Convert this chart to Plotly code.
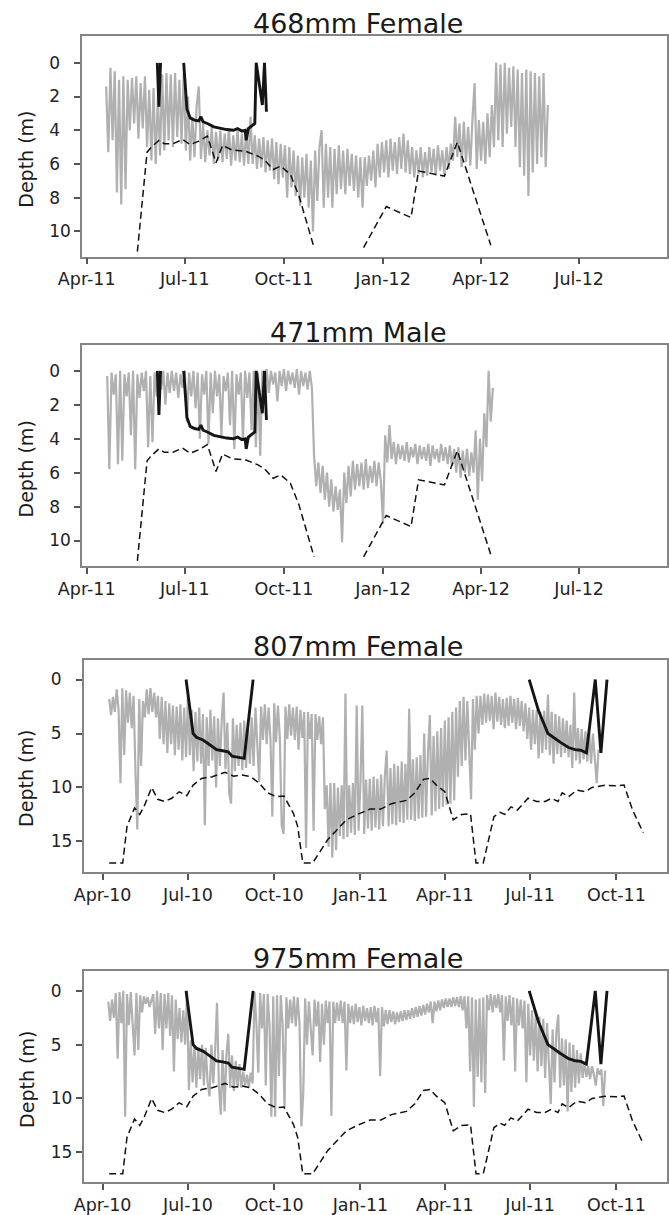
import numpy as np
import pandas as pd
import plotly.graph_objects as go

# ---------------- data ----------------
titles = ["468mm Female", "471mm Male", "807mm Female", "975mm Female"]
base_2011 = "2011-04-01"   # day 0 for panels 1-2
base_2010 = "2010-04-01"   # day 0 for panels 3-4

# gray logger depth traces (regular sampling: start day, step in days, depths in m)
p1_start, p1_step = 18, 2
p1_depth = [1.4, 5.3, 0.3, 4.6, 0.5, 7.7, 1.0, 8.4, 0.8, 7.5,
            1.0, 4.0, 0.9, 3.6, 0.8, 4.5, 1.2, 3.9, 0.8, 5.0,
            1.6, 5.8, 1.5, 6.0, 2.0, 5.5, 0.7, 5.2, 0.6, 4.6,
            0.7, 5.0, 0.6, 4.4, 1.0, 4.8, 0.6, 5.2, 2.0, 5.8,
            3.2, 5.6, 2.6, 1.4, 5.7, 3.6, 5.9, 4.0, 5.5, 3.8,
            6.0, 4.1, 5.8, 4.0, 5.9, 4.2, 5.7, 3.9, 6.1, 4.3,
            5.8, 4.0, 5.9, 4.2, 6.1, 4.0, 6.0, 3.2, 6.0, 4.3,
            6.3, 4.5, 6.2, 4.4, 6.5, 4.6, 6.4, 4.5, 6.9, 4.7,
            7.2, 4.8, 6.8, 4.9, 8.0, 5.0, 7.4, 5.2, 7.9, 5.5,
            8.5, 5.6, 8.0, 5.4, 8.6, 5.8, 10.0, 5.2, 8.2, 5.0,
            4.0, 8.6, 4.8, 8.0, 5.0, 8.6, 5.1, 7.8, 4.9, 7.5,
            5.2, 7.8, 5.1, 7.3, 5.4, 7.6, 5.5, 8.0, 5.6, 8.6,
            5.6, 7.3, 5.5, 7.0, 5.2, 7.4, 4.8, 6.8, 4.7, 6.5,
            4.6, 6.8, 4.5, 6.4, 4.7, 6.6, 4.4, 6.3, 4.2, 6.5,
            4.6, 6.6, 5.0, 6.8, 5.2, 6.6, 5.0, 6.8, 5.3, 6.7,
            5.0, 6.5, 5.1, 6.7, 4.9, 6.4, 5.2, 6.6, 5.0, 6.3,
            4.8, 5.8, 3.2, 5.6, 3.6, 6.2, 3.5, 5.9, 3.8, 6.1,
            3.4, 1.2, 6.3, 3.4, 5.8, 3.5, 6.0, 3.0, 5.6, 2.5,
            5.0, 0.0, 4.6, 0.1, 5.0, 0.0, 4.2, 0.3, 3.8, 0.2,
            5.0, 0.4, 6.2, 0.6, 6.7, 0.4, 7.9, 0.5, 6.5, 0.6,
            6.0, 0.8, 5.6, 0.6, 6.2, 2.5]

p2_start, p2_step = 19, 2
p2_depth = [0.3, 5.8, 0.1, 1.4, 0.2, 5.5, 0.0, 5.3, 0.2, 1.5,
            0.1, 3.8, 0.0, 5.8, 0.2, 1.6, 0.1, 1.2, 0.0, 4.5,
            0.3, 4.2, 0.1, 1.5, 0.2, 1.1, 0.0, 2.0, 0.1, 1.3,
            0.0, 1.2, 0.1, 1.6, 0.2, 1.0, 0.0, 3.0, 0.1, 1.5,
            0.0, 2.2, 0.1, 4.0, 0.2, 1.4, 0.0, 4.3, 0.1, 2.5,
            0.0, 1.5, 0.2, 3.8, 0.3, 1.2, 0.1, 3.2, 0.0, 4.6,
            0.2, 1.4, 0.1, 4.1, 0.0, 1.6, 0.1, 3.5, 0.0, 4.5,
            0.1, 5.0, 0.0, 0.9, -0.1, 1.3, 0.0, 0.8, 0.1, 1.8,
            0.0, 0.9, -0.1, 1.2, 0.0, 0.8, 0.1, 1.0, -0.1, 1.4,
            0.0, 0.9, 0.1, 1.1, 0.0, 1.0, 5.0, 6.8, 5.4, 7.2,
            5.6, 7.6, 6.0, 8.0, 6.4, 8.3, 6.8, 8.2, 7.0, 10.1,
            6.0, 7.8, 5.6, 7.4, 5.3, 7.0, 5.5, 6.8, 5.4, 7.0,
            5.2, 6.9, 5.6, 6.6, 5.3, 6.8, 5.4, 6.5, 9.0, 3.8,
            5.4, 3.2, 5.2, 4.2, 5.5, 4.3, 5.2, 4.4, 5.3, 4.2,
            5.4, 4.5, 5.1, 4.3, 5.5, 4.4, 5.2, 4.5, 5.3, 4.3,
            5.6, 4.4, 5.2, 4.6, 5.4, 4.3, 5.3, 4.5, 5.5, 4.4,
            5.6, 4.6, 6.0, 4.5, 6.3, 4.7, 6.0, 4.6, 6.2, 4.8,
            6.0, 3.5, 7.6, 4.0, 6.5, 2.5, 4.5, 0.0, 3.0, 1.0]

p3_start, p3_step = 7, 2
p3_depth = [1.8, 3.3, 1.6, 3.0, 0.9, 2.8, 9.6, 0.8, 7.0, 1.0,
            4.0, 1.2, 4.5, 1.5, 8.5, 13.9, 1.8, 8.0, 2.0, 3.5,
            0.9, 3.2, 0.8, 3.0, 1.2, 3.5, 1.5, 5.5, 1.6, 6.0,
            2.0, 6.8, 2.2, 6.0, 2.4, 7.0, 2.5, 6.5, 2.3, 7.5,
            2.6, 7.2, 1.5, 7.0, 2.8, 8.5, 3.0, 7.6, 2.6, 7.8,
            3.2, 13.5, 3.5, 8.0, 2.8, 7.5, 3.4, 10.0, 3.6, 8.0,
            3.8, 1.2, 8.3, 4.0, 10.5, 11.5, 3.6, 8.5, 4.2, 8.0,
            4.0, 8.4, 3.8, 8.2, 4.0, 7.8, 3.5, 8.0, 2.6, 6.5,
            9.5, 2.5, 5.6, 2.3, 6.0, 2.6, 5.5, 12.7, 2.2, 5.8,
            2.4, 5.4, 13.5, 14.3, 2.5, 5.5, 2.3, 5.2, 2.6, 5.6,
            2.5, 6.5, 2.8, 5.4, 3.0, 15.6, 3.0, 5.5, 3.2, 14.0,
            3.2, 5.6, 3.4, 6.0, 3.5, 12.0, 9.8, 15.5, 9.6, 16.5,
            9.6, 15.8, 10.0, 14.5, 9.8, 14.8, 1.3, 14.6, 9.8, 14.2,
            9.6, 14.4, 2.4, 14.0, 9.5, 2.4, 14.3, 9.3, 13.8, 9.2,
            14.0, 9.0, 13.7, 9.2, 13.9, 8.8, 13.6, 9.0, 6.6, 13.6,
            8.2, 13.4, 7.8, 13.5, 8.0, 13.2, 7.6, 13.3, 7.8, 13.0,
            2.7, 13.0, 7.4, 13.1, 7.2, 12.9, 7.0, 12.8, 5.0, 12.7,
            6.8, 3.3, 12.6, 5.2, 12.2, 4.8, 12.0, 4.5, 11.8, 3.8,
            11.6, 3.5, 11.5, 3.0, 11.2, 2.6, 9.0, 2.0, 8.0, 1.6,
            7.5, 2.0, 6.0, 11.1, 1.8, 6.5, 1.5, 5.0, 1.5, 4.2,
            1.3, 4.0, 1.4, 3.8, 1.5, 4.6, 1.2, 3.9, 1.6, 4.2,
            1.8, 4.5, 1.7, 4.3, 1.5, 4.0, 1.8, 4.6, 1.7, 4.3,
            2.0, 4.8, 2.2, 5.5, 2.6, 6.5, 2.8, 6.0, 2.8, 7.3,
            3.0, 6.8, 2.9, 6.5, 1.4, 7.0, 3.0, 7.8, 3.2, 6.9,
            3.4, 7.2, 3.6, 6.8, 3.8, 7.2, 4.2, 8.2, 1.2, 7.5,
            4.5, 7.8, 4.6, 7.4, 4.8, 7.6, 4.9, 7.8, 5.0, 7.7,
            9.6, 6.5]

p4_start, p4_step = 6, 2
p4_depth = [1.0, 2.8, 0.8, 2.5, 0.2, 6.3, 0.1, 3.0, 0.0, 11.7,
            0.3, 3.2, 0.1, 2.8, 6.0, 0.2, 5.5, 0.4, 2.0, 0.5,
            1.2, 0.6, 1.5, 0.9, 0.3, 4.0, 0.0, 3.5, 0.2, 5.5,
            0.3, 3.5, 0.2, 4.2, 0.4, 7.5, 0.8, 4.5, 1.6, 4.8,
            1.8, 5.0, 0.0, 9.2, 4.6, 8.5, 5.0, 9.0, 5.2, 8.2,
            5.0, 8.8, 5.3, 8.5, 9.8, 5.0, 8.6, 5.5, 1.1, 8.8,
            11.5, 5.5, 11.2, 6.0, 4.0, 9.0, 6.0, 9.3, 6.5, 9.0,
            6.8, 9.0, 7.5, 8.8, 7.8, 9.0, 7.6, 8.6, 0.1, 3.0,
            7.6, 0.2, 3.5, 0.3, 8.8, 0.3, 3.2, 11.7, 0.5, 11.7,
            0.4, 7.9, 0.4, 3.2, 10.9, 0.6, 3.5, 0.8, 3.0, 0.5,
            3.3, 0.6, 3.0, 12.6, 9.5, 0.7, 5.0, 1.0, 3.2, 6.0,
            0.8, 3.3, 1.0, 6.6, 1.2, 5.0, 0.9, 3.0, 1.0, 11.6,
            1.0, 3.0, 1.1, 2.8, 0.9, 3.0, 1.0, 7.4, 1.2, 3.0,
            1.4, 3.1, 1.2, 2.9, 1.5, 3.2, 1.4, 2.8, 1.6, 3.0,
            1.5, 3.2, 1.4, 2.9, 1.6, 7.9, 1.5, 3.3, 1.8, 3.1,
            1.8, 2.9, 1.9, 3.1, 2.0, 2.9, 1.9, 2.8, 1.8, 2.7,
            1.8, 2.6, 1.6, 2.5, 1.5, 2.4, 1.4, 2.3, 1.3, 2.2,
            1.2, 2.0, 1.0, 3.0, 1.0, 1.9, 0.9, 1.8, 0.8, 1.6,
            0.7, 1.5, 0.7, 1.5, 0.6, 1.4, 0.6, 1.5, 0.5, 1.8,
            0.5, 3.5, 0.5, 7.5, 0.6, 10.8, 0.8, 8.0, 0.7, 8.5,
            0.6, 9.5, 0.4, 1.8, 0.3, 2.0, 0.4, 1.6, 0.3, 2.0,
            0.4, 6.5, 0.5, 2.8, 0.4, 3.2, 0.6, 7.5, 0.7, 3.2,
            0.8, 3.5, 0.9, 8.5, 1.2, 6.0, 1.8, 6.5, 2.0, 7.5,
            2.4, 7.0, 2.6, 8.1, 3.0, 7.5, 10.5, 3.6, 8.5, 3.8,
            2.2, 9.0, 4.4, 8.8, 4.5, 11.2, 4.8, 9.4, 5.0, 9.0,
            5.5, 8.6, 5.8, 8.1, 6.6, 8.0, 7.0, 8.2, 7.0, 7.8,
            8.8, 7.2, 7.8, 7.3, 10.7, 7.4]

# black line (panels 1-2, day since 2011-04-01; None = gap)
blk_a_day = [65.5, 67, 68.5, None, 90, 93, 96, 100, 104, 106, 108, 112, 118, 124, 130, 136, 140,
             144, 147, 148, 150, 152, 154, 156, 157.3, 163, 165, 166.8]
blk_a_dep = [0, 2.6, 0, None, 0, 2.75, 3.27, 3.4, 3.45, 3.2, 3.5, 3.6, 3.8, 3.9, 3.96, 4.0, 3.9,
             4.05, 4.0, 4.6, 3.9, 3.8, 3.7, 3.6, 0, 2.5, 0, 2.9]
# dashed line (panels 1-2)
dsh_a_day = [47, 56, 60, 67, 72, 80, 89, 96, 104, 112, 120, 126, 135, 147, 159, 165, 173, 180,
             189, 197, 211, None, 257, 278, 301, 308, 316, 332, 344, 355, 375]
dsh_a_dep = [11.2, 5.3, 5.0, 4.6, 4.8, 4.8, 4.55, 4.85, 4.65, 4.35, 5.93, 4.9, 5.18, 5.24, 5.54,
             5.77, 6.33, 6.13, 6.62, 7.9, 10.96, None, 10.96, 8.53, 9.18, 6.42, 6.52, 6.72,
             4.71, 6.92, 10.82]

# black line (panels 3-4, day since 2010-04-01)
blk_b_day = [89, 96.5, 100, 107, 112, 117, 121.5, 128, 134, 138, 145, 151, 160.5, None,
             455, 465, 475, 481, 488, 497, 504, 510, 516, 525.5, 531.5, 538]
blk_b_dep = [0, 5.0, 5.35, 5.6, 5.9, 6.2, 6.5, 6.6, 6.7, 7.1, 7.2, 7.3, 0, None,
             0, 2.9, 5.0, 5.4, 5.8, 6.3, 6.5, 6.55, 6.8, 0, 6.8, 0]
# dashed line (panels 3-4)
dsh_b_day = [7, 21.4, 26, 34, 39.6, 44, 52.3, 58.7, 66, 73.7, 81.5, 89.7, 96.5, 105.6, 117,
             130.6, 139.7, 148.8, 158, 167, 176, 185, 193.4, 203.5, 208, 213.5, 224, 240,
             253.5, 260, 271.7, 285.4, 296.8, 308, 324, 333, 342.3, 349, 356, 365, 374, 383,
             392.4, 398.3, 406, 417.4, 424, 428.8, 435.6, 442.4, 453.8, 463, 472, 478.8,
             485.7, 490.2, 497, 506, 515, 522, 535.7, 547, 556.2, 565.3, 576.7]
dsh_b_dep = [17.0, 17.0, 13.6, 11.9, 12.5, 11.8, 10.0, 11.1, 11.3, 11.0, 10.4, 10.76, 9.78,
             9.16, 9.0, 8.6, 8.95, 8.85, 9.0, 9.6, 10.5, 10.85, 10.8, 12.4, 13.6, 17.0, 17.0,
             14.85, 13.6, 13.0, 12.5, 12.0, 12.0, 11.5, 11.2, 10.5, 9.25, 9.16, 9.78, 10.4,
             13.0, 12.5, 12.45, 17.0, 17.0, 12.7, 12.3, 12.5, 11.8, 12.1, 11.0, 11.3, 11.3,
             11.0, 11.3, 10.5, 10.85, 10.24, 10.4, 10.0, 9.8, 9.84, 9.78, 12.1, 14.2]

# ---------------- helpers ----------------
def day_to_date(base, days):
    b = pd.Timestamp(base)
    return [None if d is None else b + pd.Timedelta(days=d) for d in days]

def regular_dates(base, start, step, n):
    b = pd.Timestamp(base)
    return [b + pd.Timedelta(days=start + step * k) for k in range(n)]

GRAY = "#b0b0b0"
FONT = "DejaVu Sans"
H = 1215.0

panels = [
    dict(base=base_2011, start=p1_start, step=p1_step, dep=p1_depth, blk=(blk_a_day, blk_a_dep),
         dsh=(dsh_a_day, dsh_a_dep), ypx=(36, 257.7), yr=[11.5, -1.6], yt=[0, 2, 4, 6, 8, 10],
         xr=(-4.4, 538.6), title_y=24, ytitle_y=160, x0=0.0),
    dict(base=base_2011, start=p2_start, step=p2_step, dep=p2_depth, blk=(blk_a_day, blk_a_dep),
         dsh=(dsh_a_day, dsh_a_dep), ypx=(346, 568.3), yr=[11.5, -1.55], yt=[0, 2, 4, 6, 8, 10],
         xr=(-4.4, 538.6), title_y=333.7, ytitle_y=471, x0=0.0),
    dict(base=base_2010, start=p3_start, step=p3_step, dep=p3_depth, blk=(blk_b_day, blk_b_dep),
         dsh=(dsh_b_day, dsh_b_dep), ypx=(662.3, 876), yr=[17.87, -1.85], yt=[0, 5, 10, 15],
         xr=(-20.4, 602.0), title_y=649.5, ytitle_y=781.7, x0=0.0026),
    dict(base=base_2010, start=p4_start, step=p4_step, dep=p4_depth, blk=(blk_b_day, blk_b_dep),
         dsh=(dsh_b_day, dsh_b_dep), ypx=(975.3, 1187.3), yr=[17.8, -1.82], yt=[0, 5, 10, 15],
         xr=(-20.4, 602.0), title_y=962.7, ytitle_y=1084, x0=0.0026),
]

fig = go.Figure()
annotations = []
layout = {}
for i, p in enumerate(panels):
    n = i + 1
    xa = "x" if n == 1 else f"x{n}"
    ya = "y" if n == 1 else f"y{n}"
    xgray = regular_dates(p["base"], p["start"], p["step"], len(p["dep"]))
    fig.add_trace(go.Scatter(x=xgray, y=p["dep"], mode="lines", xaxis=xa, yaxis=ya,
                             line=dict(color=GRAY, width=2.2), showlegend=False,
                             hoverinfo="skip"))
    fig.add_trace(go.Scatter(x=day_to_date(p["base"], p["dsh"][0]), y=p["dsh"][1], mode="lines",
                             xaxis=xa, yaxis=ya, connectgaps=False,
                             line=dict(color="#111111", width=1.5, dash="7px,4px"),
                             showlegend=False))
    fig.add_trace(go.Scatter(x=day_to_date(p["base"], p["blk"][0]), y=p["blk"][1], mode="lines",
                             xaxis=xa, yaxis=ya, connectgaps=False,
                             line=dict(color="#151515", width=2.9), showlegend=False))

    b = pd.Timestamp(p["base"])
    dom = [1 - p["ypx"][1] / H, 1 - p["ypx"][0] / H]
    xname = "xaxis" if n == 1 else f"xaxis{n}"
    yname = "yaxis" if n == 1 else f"yaxis{n}"
    layout[xname] = dict(
        domain=[p["x0"], 1], anchor=ya,
        range=[b + pd.Timedelta(days=p["xr"][0]), b + pd.Timedelta(days=p["xr"][1])],
        tick0=p["base"], dtick="M3", tickformat="%b-%y",
        showline=True, linecolor="#858585", linewidth=1.5, mirror=True,
        ticks="outside", ticklen=6, tickwidth=1.5, tickcolor="#555555",
        showgrid=False, zeroline=False,
        tickfont=dict(family=FONT, size=17.5, color="#222222"))
    layout[yname] = dict(
        domain=dom, anchor=xa, range=p["yr"],
        tickvals=p["yt"],
        ticktext=[(str(v) + "\u00a0\u00a0") if v < 10 else str(v) for v in p["yt"]],
        showline=True, linecolor="#858585", linewidth=1.5, mirror=True,
        ticks="outside", ticklen=6, tickwidth=1.5, tickcolor="#555555",
        showgrid=False, zeroline=False,
        tickfont=dict(family=FONT, size=17, color="#222222"))
    annotations.append(dict(text=titles[i], xref="paper", yref="paper",
                            x=(358.5 - 82) / 586, y=1 - p["title_y"] / H,
                            xanchor="center", yanchor="middle", showarrow=False,
                            font=dict(family=FONT, size=27, color="#1a1a1a")))
    annotations.append(dict(text="Depth (m)", xref="paper", yref="paper",
                            x=(26.3 - 82) / 586, y=1 - p["ytitle_y"] / H,
                            xanchor="center", yanchor="middle", textangle=-90,
                            showarrow=False,
                            font=dict(family=FONT, size=19, color="#1a1a1a")))

fig.update_layout(**layout)
fig.update_layout(width=669, height=1215, margin=dict(l=82, r=1, t=0, b=0),
                  paper_bgcolor="white", plot_bgcolor="white",
                  annotations=annotations, showlegend=False)
fig.write_html("out.html", config={"displayModeBar": False},
               post_script="document.body.style.margin='0px';"
                           "document.body.style.overflow='hidden';")
